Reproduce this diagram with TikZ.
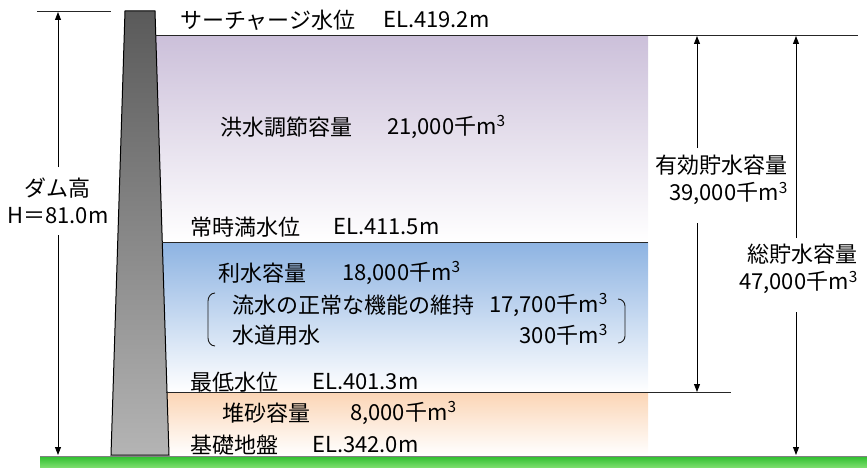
\documentclass[tikz,border=0pt]{standalone}
\usepackage{fontspec}
\usepackage{tikz}
\usetikzlibrary{arrows.meta}
\newfontfamily\jpfont{Noto Sans CJK JP}
\definecolor{CP}{HTML}{CCC0DA}
\definecolor{CB}{HTML}{8DB3E2}
\definecolor{CO}{HTML}{FBD5B5}
\definecolor{CG}{HTML}{2DBE2D}
\definecolor{CL}{HTML}{80E070}
\definecolor{CD}{HTML}{5A5A5A}
\definecolor{CE}{HTML}{B4B4B4}
\tikzset{
	lb/.style = {font=\jpfont\fontsize{22}{27}\selectfont, inner sep=0pt, anchor=west},
	ar/.style = {-{Triangle[length=8pt,width=6pt]}, line width=0.9pt},
	lv/.style = {line width=1pt, draw=black!85},
	bk/.style = {line width=0.9pt, draw=black!90},
}

\begin{document}
\begin{tikzpicture}[x=1pt, y=-1pt]
		\useasboundingbox (0,0) rectangle (867,468);
		
		%%═══════════════════════════════════════════════════════════════════
		%% STORAGE ZONES   (x = 150 … 648)
		%%   flood   : y =  36 … 242
		%%   water   : y = 242 … 392
		%%   sediment: y = 392 … 455
		%%═══════════════════════════════════════════════════════════════════
		\shade[top color=CP, bottom color=white] (150, 36) rectangle (648,242);
		\shade[top color=CB, bottom color=white] (150,242) rectangle (648,392);
		\shade[top color=CO, bottom color=white] (150,392) rectangle (648,455);
		
		%% ground ──────────────────────────────────────────────────────────
		\shade[top color=CG, bottom color=CL] (40,456) rectangle (867,468);
		\draw[gray, line width=0.8pt] (40,456) -- (867,456);
		
		%% dam body ────────────────────────────────────────────────────────
		\draw[top color=CD, bottom color=CE, line width=1pt]
		(125,11) -- (155,11) -- (169,455) -- (111,455) -- cycle;
		
		%% level lines ─────────────────────────────────────────────────────
		\draw[lv] ( 37, 12) -- (111, 12);
		\draw[lv] (155, 36) -- (858, 36);
		\draw[lv] (162,242) -- (648,242);
		\draw[lv] (166,392) -- (731,392);
		
		%%═══════════════════════════════════════════════════════════════════
		%% LEVELS AND VOLUMES
		%%═══════════════════════════════════════════════════════════════════
		\node[lb] (sur)    at (180, 20) {サーチャージ水位};
		\node[lb] (surv)   at (383, 20) {EL.419.2m};
		\node[lb] (flood)  at (220,127) {洪水調節容量};
		\node[lb] (floodv) at (387,127) {21,000千m\textsuperscript{3}};
		\node[lb] (nwl)    at (190,227) {常時満水位};
		\node[lb] (nwlv)   at (333,227) {EL.411.5m};
		\node[lb] (use)    at (218,273) {利水容量};
		\node[lb] (usev)   at (342,273) {18,000千m\textsuperscript{3}};
		\node[lb] (flow)   at (232,305) {流水の正常な機能の維持};
		\node[lb, anchor=east] (flowv) at (608,305) {17,700千m\textsuperscript{3}};
		\node[lb] (sup)    at (232,335) {水道用水};
		\node[lb, anchor=east] (supv)  at (608,335) {300千m\textsuperscript{3}};
		\node[lb] (low)    at (190,382) {最低水位};
		\node[lb] (lowv)   at (312,382) {EL.401.3m};
		\node[lb] (sed)    at (222,413) {堆砂容量};
		\node[lb] (sedv)   at (350,413) {8,000千m\textsuperscript{3}};
		\node[lb] (base)   at (190,445) {基礎地盤};
		\node[lb] (basev)  at (312,445) {EL.342.0m};
		
		%% brackets round the water use split
		\draw[bk] (215,293) to[out=180, in=90] (208,301) -- (208,338) to[out=-90, in=180] (215,346);
		\draw[bk] (618,299) to[out=0, in=90] (625,306) -- (625,336) to[out=-90, in=0] (618,343);
		
		%%═══════════════════════════════════════════════════════════════════
		%% DIMENSION ARROWS
		%%═══════════════════════════════════════════════════════════════════
		
		%% dam height
		\coordinate (htop) at (58, 12);
		\coordinate (hbot) at (58,455);
		\coordinate (hg1)  at (58,167);
		\coordinate (hg2)  at (58,235);
		\node[lb, anchor=center, align=center] (hlab) at (58,201) {ダム高\\H＝81.0m};
		\draw[ar] (hg1) -- (htop);
		\draw[ar] (hg2) -- (hbot);
		
		%% effective storage
		\coordinate (etop) at (697, 36);
		\coordinate (ebot) at (697,392);
		\coordinate (eg1)  at (697,148);
		\coordinate (eg2)  at (697,223);
		\node[lb, anchor=east, align=right] (elab) at (788,180) {有効貯水容量\\39,000千m\textsuperscript{3}};
		\draw[ar] (eg1) -- (etop);
		\draw[ar] (eg2) -- (ebot);
		
		%% total storage
		\coordinate (ttop) at (796, 36);
		\coordinate (tbot) at (796,455);
		\coordinate (tg1)  at (796,238);
		\coordinate (tg2)  at (796,312);
		\node[lb, anchor=east, align=right] (tlab) at (858,269) {総貯水容量\\47,000千m\textsuperscript{3}};
		\draw[ar] (tg1) -- (ttop);
		\draw[ar] (tg2) -- (tbot);
		
\end{tikzpicture}
\end{document}
